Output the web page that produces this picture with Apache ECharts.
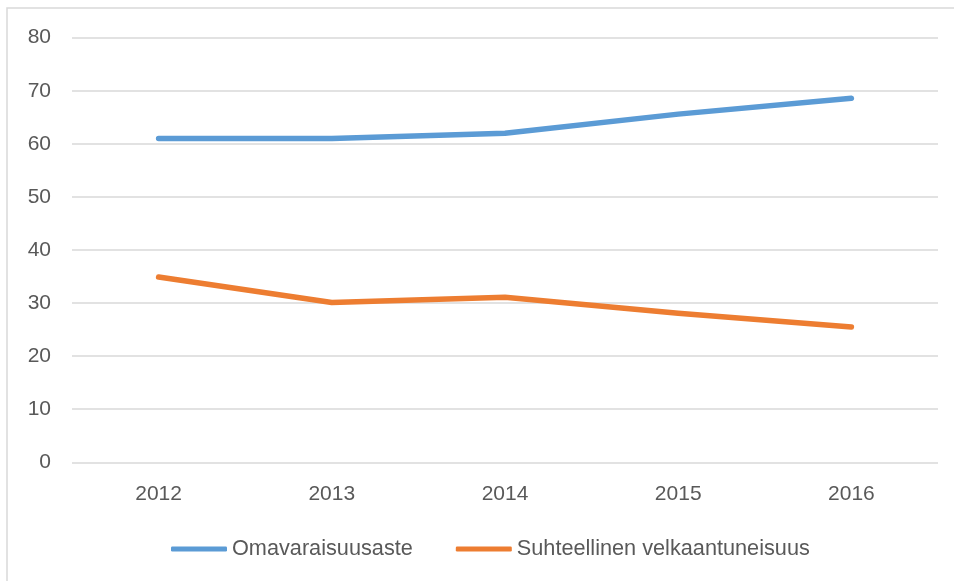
<!DOCTYPE html>
<html>
<head>
<meta charset="utf-8">
<script src="https://cdn.jsdelivr.net/npm/echarts@6/dist/echarts.min.js"></script>
<style>
html,body{margin:0;padding:0;background:#fff;}
#chart{width:954px;height:581px;}
</style>
</head>
<body>
<div id="chart"></div>
<script>
const categories = ['2012', '2013', '2014', '2015', '2016'];
const omavaraisuusaste = [61.0, 61.0, 62.0, 65.6, 68.6];
const velkaantuneisuus = [34.9, 30.1, 31.1, 28.1, 25.5];
const seriesNames = ['Omavaraisuusaste', 'Suhteellinen velkaantuneisuus'];

const chart = echarts.init(document.getElementById('chart'));
const textColor = '#595959';
const font = 'Liberation Sans, Arial, sans-serif';
chart.setOption({
  animation: false,
  backgroundColor: '#fff',
  graphic: [{
    type: 'rect',
    shape: { x: 7, y: 8, width: 2000, height: 2000 },
    style: { fill: 'none', stroke: '#d9d9d9', lineWidth: 1.5 },
    silent: true
  }],
  grid: { left: 72, right: 16, top: 37.7, bottom: 118.7 },
  legend: {
    top: 533,
    left: 166,
    itemGap: 43,
    itemWidth: 56,
    itemHeight: 5,
    icon: 'roundRect',
    textStyle: { color: textColor, fontSize: 21.7, fontFamily: font },
    data: seriesNames
  },
  xAxis: {
    type: 'category',
    data: categories,
    boundaryGap: true,
    axisLine: { show: false },
    axisTick: { show: false },
    axisLabel: { color: textColor, fontSize: 21, fontFamily: font, margin: 21 }
  },
  yAxis: {
    type: 'value',
    min: 0, max: 80, interval: 10,
    axisLine: { show: false },
    axisTick: { show: false },
    axisLabel: { color: textColor, fontSize: 21, fontFamily: font, margin: 21 },
    splitLine: { lineStyle: { color: '#d9d9d9', width: 1.5 } }
  },
  series: [
    {
      name: seriesNames[0], type: 'line', data: omavaraisuusaste,
      symbol: 'none', color: '#5B9BD5',
      lineStyle: { width: 5.5, cap: 'round', join: 'round' }
    },
    {
      name: seriesNames[1], type: 'line', data: velkaantuneisuus,
      symbol: 'none', color: '#ED7D31',
      lineStyle: { width: 5.5, cap: 'round', join: 'round' }
    }
  ]
});
</script>
</body>
</html>
